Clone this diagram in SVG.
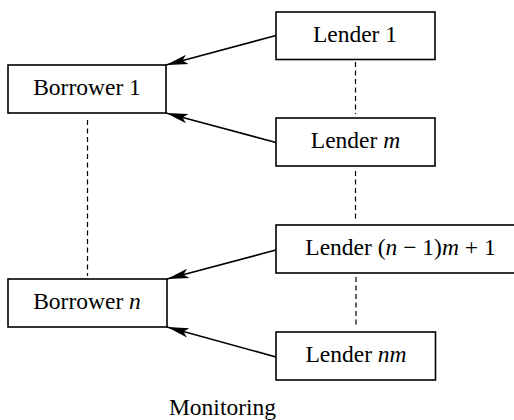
<svg xmlns="http://www.w3.org/2000/svg" width="514" height="420" viewBox="0 0 514 420">
  <style>
    .box { fill: #ffffff; stroke: #000000; stroke-width: 1.6; }
    .lbl { font-family: "Liberation Serif", "Times New Roman", serif; font-size: 23.5px; fill: #000000; text-anchor: middle; }
    .var { font-style: italic; }
    .link { fill: none; stroke: #000000; stroke-width: 1.6; }
    .dash { fill: none; stroke: #000000; stroke-width: 1.2; stroke-dasharray: 5 3.5; }
  </style>
  <defs>
    <marker id="head" markerUnits="userSpaceOnUse" markerWidth="24" markerHeight="12" refX="22" refY="6" orient="auto">
      <path d="M0,1.2 L22,6 L0,10.8 L5,6 Z" fill="#000000"/>
    </marker>
  </defs>
  <rect width="514" height="420" fill="#ffffff"/>

  <!-- connectors: lenders point at the corners of their borrower; dashed lines mark omitted members -->
  <g id="connectors">
    <line class="link" x1="276" y1="35.5" x2="166" y2="65" marker-end="url(#head)"/>
    <line class="link" x1="276" y1="142.5" x2="166" y2="113" marker-end="url(#head)"/>
    <line class="link" x1="276" y1="250" x2="167" y2="279" marker-end="url(#head)"/>
    <line class="link" x1="276" y1="357" x2="167" y2="327" marker-end="url(#head)"/>
    <line class="dash" x1="355.5" y1="62" x2="355.5" y2="114"/>
    <line class="dash" x1="355.5" y1="171" x2="355.5" y2="221"/>
    <line class="dash" x1="356" y1="277" x2="356" y2="327"/>
    <line class="dash" x1="87.5" y1="120" x2="87.5" y2="276"/>
  </g>

  <g id="lender-1">
    <rect class="box" x="276" y="12" width="159" height="47.5"/>
    <text class="lbl" x="355" y="41.5">Lender 1</text>
  </g>
  <g id="borrower-1">
    <rect class="box" x="8" y="65" width="158" height="48"/>
    <text class="lbl" x="87" y="95">Borrower 1</text>
  </g>
  <g id="lender-m">
    <rect class="box" x="276" y="118" width="159" height="48"/>
    <text class="lbl" x="355.5" y="148">Lender <tspan class="var">m</tspan></text>
  </g>
  <g id="lender-n1m1">
    <rect class="box" x="276" y="225" width="260" height="48"/>
    <text class="lbl" x="400.5" y="255">Lender (<tspan class="var">n</tspan> − 1)<tspan class="var">m</tspan> + 1</text>
  </g>
  <g id="borrower-n">
    <rect class="box" x="8" y="279" width="159" height="48"/>
    <text class="lbl" x="87" y="309">Borrower <tspan class="var">n</tspan></text>
  </g>
  <g id="lender-nm">
    <rect class="box" x="276" y="332" width="159.5" height="48"/>
    <text class="lbl" x="356" y="362">Lender <tspan class="var">nm</tspan></text>
  </g>

  <text class="lbl" x="222.5" y="414.5">Monitoring</text>
</svg>
